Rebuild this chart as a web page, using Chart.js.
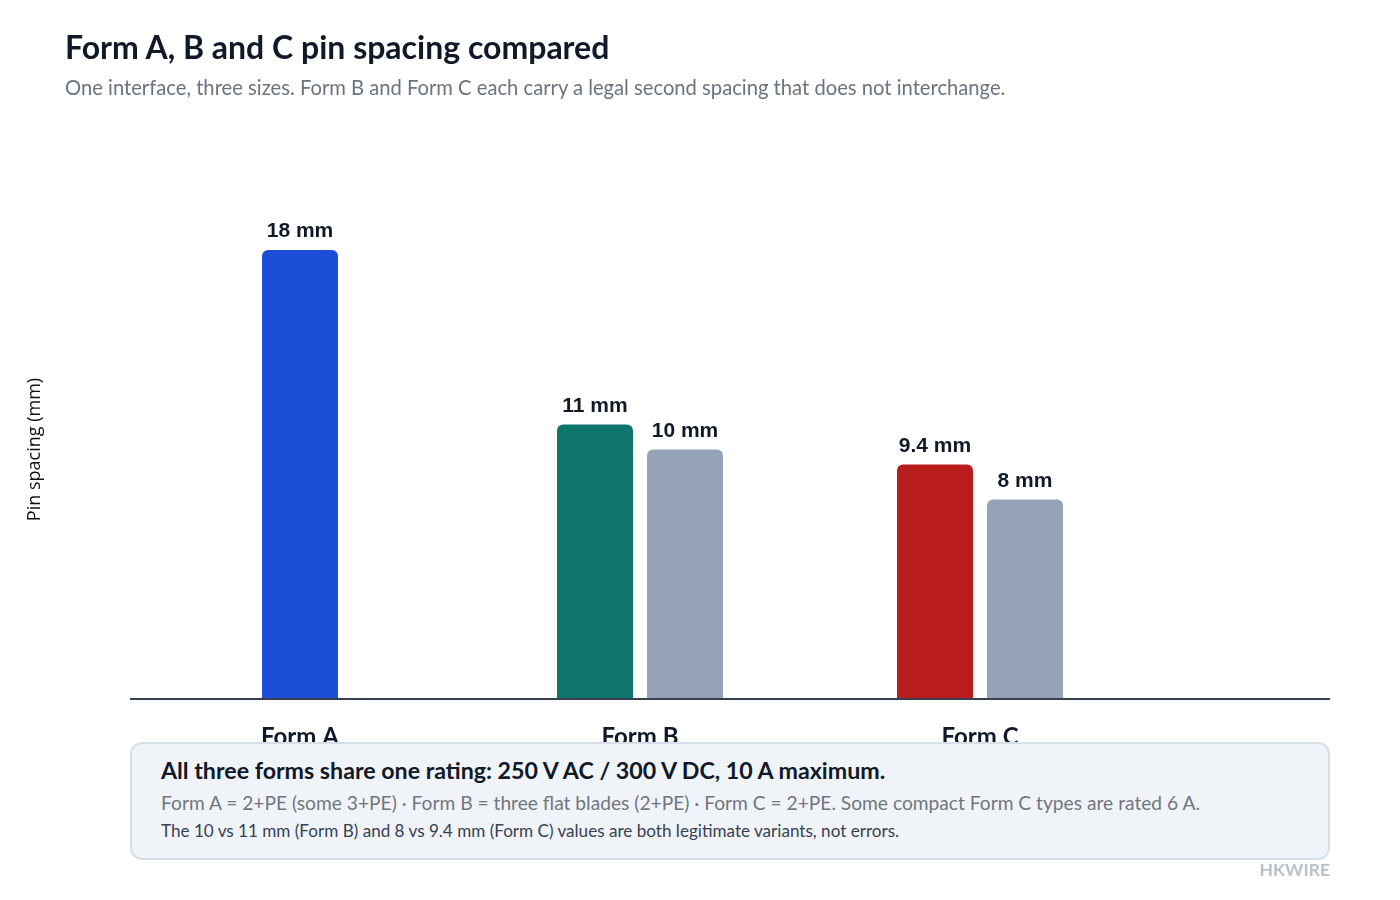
<!DOCTYPE html>
<html>
<head>
<meta charset="utf-8">
<script src="https://cdn.jsdelivr.net/npm/chart.js@4.4.1/dist/chart.umd.min.js"></script>
<style>
  html, body { margin: 0; padding: 0; background: #ffffff; width: 1400px; height: 900px; overflow: hidden; font-family: Lato, "Noto Sans", sans-serif; }
  #wrap { position: relative; width: 1400px; height: 900px; }
  #chart { position: absolute; left: 0; top: 0; width: 1400px; height: 900px; }
  .title { position: absolute; left: 65px; top: 27px; font-size: 32px; font-weight: 700; color: #111827; white-space: nowrap; line-height: 40px; }
  .subtitle { position: absolute; left: 65px; top: 75px; font-size: 20.2px; color: #6b7280; white-space: nowrap; line-height: 24px; }
  .callout { position: absolute; left: 130px; top: 742px; width: 1196px; height: 114px; background: #f0f4f8; border: 2px solid #d6dee9; border-radius: 12px; box-sizing: content-box; }
  .callout .h { position: absolute; left: 29px; top: 12px; font-size: 23.2px; font-weight: 700; color: #111827; white-space: nowrap; line-height: 28px; }
  .callout .l1 { position: absolute; left: 29px; top: 47px; font-size: 19.2px; color: #71767e; white-space: nowrap; line-height: 24px; }
  .callout .l2 { position: absolute; left: 29px; top: 76px; font-size: 17.1px; color: #374151; white-space: nowrap; line-height: 22px; }
  .mark { position: absolute; right: 70px; top: 859px; font-size: 17.5px; font-weight: 700; color: #b8c0c8; }
</style>
</head>
<body>
<div id="wrap">
  <canvas id="chart" width="1400" height="900"></canvas>
  <div class="title">Form A, B and C pin spacing compared</div>
  <div class="subtitle">One interface, three sizes. Form B and Form C each carry a legal second spacing that does not interchange.</div>
  <div class="callout">
    <div class="h">All three forms share one rating: 250 V AC / 300 V DC, 10 A maximum.</div>
    <div class="l1">Form A = 2+PE (some 3+PE) · Form B = three flat blades (2+PE) · Form C = 2+PE. Some compact Form C types are rated 6 A.</div>
    <div class="l2">The 10 vs 11 mm (Form B) and 8 vs 9.4 mm (Form C) values are both legitimate variants, not errors.</div>
  </div>
  <div class="mark">HKWIRE</div>
</div>
<script>
const categories = ['Form A', 'Form B', 'Form C'];
const primarySpacing = [18, 11, 9.4];
const secondSpacing = [null, 10, 8];
const primaryColors = ['#1d4ed8', '#0f766e', '#b91c1c'];
const secondColor = '#94a3b8';
const yAxisTitle = 'Pin spacing (mm)';
const unit = 'mm';

const valueLabels = {
  id: 'valueLabels',
  afterDatasetsDraw(chart) {
    const ctx = chart.ctx;
    ctx.save();
    ctx.font = 'bold 21px "Liberation Sans", Arial, sans-serif';
    ctx.fillStyle = '#111827';
    ctx.textAlign = 'center';
    ctx.textBaseline = 'bottom';
    chart.data.datasets.forEach((ds, di) => {
      const meta = chart.getDatasetMeta(di);
      meta.data.forEach((el, i) => {
        const v = ds.data[i];
        if (v === null || v === undefined) return;
        ctx.fillText(v + ' ' + unit, el.x, el.y - 8);
      });
    });
    ctx.restore();
  }
};

const baseline = {
  id: 'baseline',
  afterDatasetsDraw(chart) {
    const ctx = chart.ctx;
    const y = chart.scales.y.getPixelForValue(0);
    ctx.save();
    ctx.strokeStyle = '#374151';
    ctx.lineWidth = 2;
    ctx.beginPath();
    ctx.moveTo(chart.chartArea.left, y);
    ctx.lineTo(1330, y);
    ctx.stroke();
    ctx.restore();
  }
};

new Chart(document.getElementById('chart'), {
  type: 'bar',
  data: {
    labels: categories,
    datasets: [
      { label: 'Spacing', data: primarySpacing, backgroundColor: primaryColors },
      { label: 'Second spacing', data: secondSpacing, backgroundColor: secondColor }
    ]
  },
  options: {
    responsive: false,
    animation: false,
    devicePixelRatio: 1,
    layout: { padding: { left: 20, right: 250, top: 200, bottom: 141 } },
    datasets: {
      bar: {
        skipNull: true,
        categoryPercentage: 180 / 340,
        barPercentage: 0.85,
        maxBarThickness: 76,
        borderRadius: 6,
        borderSkipped: 'start'
      }
    },
    plugins: { legend: { display: false }, tooltip: { enabled: false } },
    scales: {
      x: {
        grid: { display: false },
        border: { display: false },
        ticks: { color: '#111827', font: { family: 'Lato, "Noto Sans", sans-serif', size: 24, weight: 'bold' }, padding: 16 },
        afterFit(s) { s.height = 60; }
      },
      y: {
        min: 0, max: 20,
        grid: { display: false },
        border: { display: false },
        ticks: { display: false },
        title: { display: true, text: yAxisTitle, color: '#111111', font: { family: '"Open Sans", "Noto Sans", sans-serif', size: 18 }, padding: { top: 4, bottom: 4 } },
        afterFit(s) { s.width = 110; }
      }
    }
  },
  plugins: [valueLabels, baseline]
});
</script>
</body>
</html>
